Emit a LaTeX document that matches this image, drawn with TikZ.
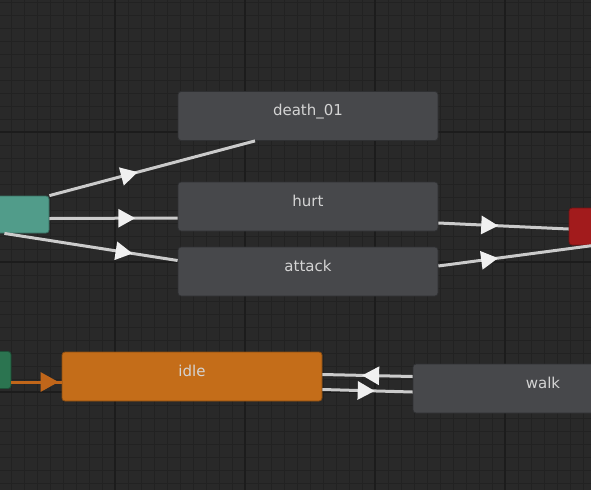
\documentclass[tikz,border=0pt]{standalone}
\usepackage{fontspec}
\setmainfont{DejaVu Sans}
\usetikzlibrary{arrows.meta,calc,decorations.markings}
\definecolor{canvas}{HTML}{292929}
\definecolor{gridminor}{HTML}{222222}
\definecolor{gridmajor}{HTML}{1C1C1C}
\definecolor{slate}{HTML}{47484B}
\definecolor{slateedge}{HTML}{2F3032}
\definecolor{anyteal}{HTML}{519C8A}
\definecolor{exitred}{HTML}{A21B1C}
\definecolor{entrygreen}{HTML}{2B7450}
\definecolor{idleorange}{HTML}{C46D19}
\definecolor{linkgray}{HTML}{CBCBCB}
\definecolor{tipwhite}{HTML}{F0F0F0}
\definecolor{linkorange}{HTML}{C0661A}
\definecolor{nametext}{HTML}{D4D4D4}

\begin{document}
\begin{tikzpicture}[x=1pt,y=-1pt,state/.style={rectangle,rounded corners=3pt,minimum width=260pt,minimum height=49pt,inner sep=0pt,fill=slate,draw=slateedge,line width=0.8pt},special/.style={state,minimum height=37pt},statename/.style={label={[text=nametext,font=\fontsize{15}{17}\selectfont,text height=11pt,text depth=0pt,yshift=6pt]center:#1}},link/.style={line width=3pt,linkgray,postaction={decorate},decoration={markings,mark=at position #1 with {\arrow{Triangle[length=17pt,width=18pt,color=tipwhite]}}}},startlink/.style={line width=3pt,linkorange,postaction={decorate},decoration={markings,mark=at position #1 with {\arrow{Triangle[length=18pt,width=19pt]}}}}]
\useasboundingbox (0,0) rectangle (591,490);
\clip (0,0) rectangle (591,490);
\fill[canvas] (0,0) rectangle (591,490);
% grid
\foreach \x in {11,24,...,590} \draw[gridminor,line width=1pt] (\x,0) -- (\x,490);
\foreach \y in {2,15,...,489} \draw[gridminor,line width=1pt] (0,\y) -- (591,\y);
\foreach \x in {115,245,375,505} \draw[gridmajor,line width=2pt] (\x,0) -- (\x,490);
\foreach \y in {132,262,392} \draw[gridmajor,line width=2pt] (0,\y) -- (591,\y);
% states
\node[special,fill=anyteal,draw=anyteal!70!black] (any) at (-81,214.5) {};
\node[state,statename=death\_01] (death) at (308,116) {};
\node[state,statename=hurt] (hurt) at (308,206.5) {};
\node[state,statename=attack] (attack) at (308,271.5) {};
\node[special,fill=exitred,draw=exitred!70!black] (exit) at (699,226.5) {};
\node[special,fill=entrygreen,draw=entrygreen!70!black] (entry) at (-119,370) {};
\node[state,fill=idleorange,draw=idleorange!70!black,statename=idle] (idle) at (192,376.5) {};
\node[state,statename=walk] (walk) at (543,388.5) {};
% transitions
\draw[link=0.43] (any.north east) -- ($(death.south)+(-53,0)$);
\draw[link=0.67] ($(any.east)+(0,4)$) -- ($(hurt.west)+(0,11.5)$);
\draw[link=0.74] ($(any.south east)+(-45,0)$) -- ($(attack.west)+(0,-11)$);
\draw[link=0.46] ($(hurt.east)+(0,16.5)$) -- ($(exit.west)+(0,2.5)$);
\draw[link=0.385] ($(attack.east)+(0,-5.5)$) -- ($(exit.south west)+(25,0)$);
\draw[startlink=0.94] ($(entry.east)+(0,12)$) -- ($(idle.west)+(0,5.5)$);
\draw[link=0.56] ($(walk.west)+(0,-12)$) -- ($(idle.east)+(0,-2)$);
\draw[link=0.58] ($(idle.east)+(0,13)$) -- ($(walk.west)+(0,3.5)$);
\end{tikzpicture}
\end{document}
